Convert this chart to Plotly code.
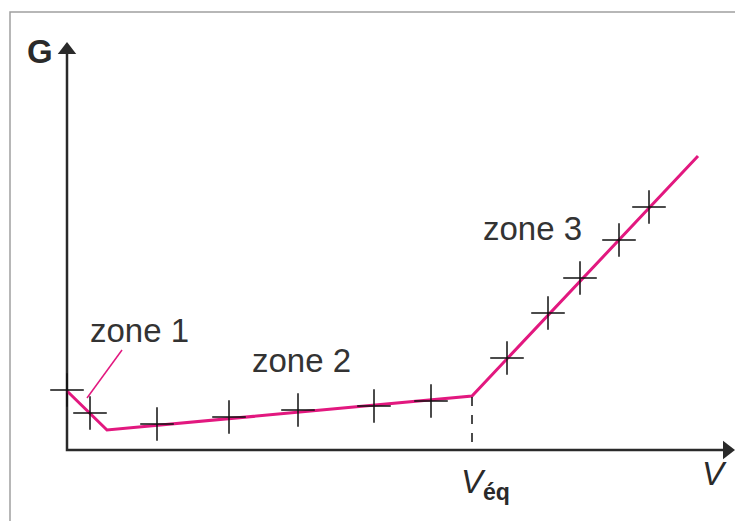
import plotly.graph_objects as go

# Curve (conductance G vs added volume V), arbitrary units
curve_v = [0.0, 4.0, 40.5, 63.1]
curve_g = [5.9, 2.0, 5.4, 29.4]

# Measured points (crosses)
meas_v = [0.0, 2.3, 9.0, 16.2, 23.1, 30.7, 36.4, 44.0, 48.1, 51.3, 55.2, 58.2]
meas_g = [6.0, 3.7, 2.6, 3.3, 4.0, 4.4, 4.9, 9.2, 13.7, 17.2, 21.0, 24.3]

v_eq = 40.5
g_eq = 5.3

# axis extents
v_max = 66.0
g_max = 40.0

zone_labels = ["zone 1", "zone 2", "zone 3"]
zone_v = [7.2, 23.4, 46.5]
zone_g = [12.0, 9.0, 22.2]

PINK = "#e2187f"
INK = "#2a2a2a"
FONT = "Liberation Sans"

fig = go.Figure()

# axes lines
fig.add_trace(go.Scatter(x=[0, 0, v_max], y=[g_max, 0, 0], mode="lines",
                         line=dict(color=INK, width=2.5), hoverinfo="skip"))
# arrowheads
fig.add_trace(go.Scatter(x=[0], y=[g_max], mode="markers",
                         marker=dict(symbol="triangle-up", size=16, color=INK),
                         hoverinfo="skip"))
fig.add_trace(go.Scatter(x=[v_max], y=[0], mode="markers",
                         marker=dict(symbol="triangle-right", size=16, color=INK),
                         hoverinfo="skip"))

fig.add_trace(go.Scatter(x=curve_v, y=curve_g, mode="lines",
                         line=dict(color=PINK, width=3), hoverinfo="skip"))
fig.add_trace(go.Scatter(x=meas_v, y=meas_g, mode="markers",
                         marker=dict(symbol="cross-thin", size=24,
                                     line=dict(color="#111", width=1.5)),
                         hoverinfo="skip"))

# dashed line at equivalence
fig.add_shape(type="line", x0=v_eq, x1=v_eq, y0=g_eq, y1=0,
              line=dict(color="#111", width=1.5, dash="dash"))
# zone 1 leader line
fig.add_shape(type="line", x0=5.5, y0=10.0, x1=2.0, y1=5.2,
              line=dict(color=PINK, width=1.5))
# frame
fig.add_shape(type="rect", x0=-5.7, x1=67.3, y0=43.8, y1=-10,
              line=dict(color="#a0a0a0", width=1.5))

# axis labels
fig.add_annotation(x=-2.7, y=39.9, text="<b>G</b>", showarrow=False,
                   font=dict(family=FONT, size=33, color=INK))
fig.add_annotation(x=64.7, y=-2.3, text="<i>V</i>", showarrow=False,
                   font=dict(family=FONT, size=33, color=INK))
fig.add_annotation(x=v_eq + 1.3, y=-3.4, text="<i>V</i><sub><b>éq</b></sub>",
                   showarrow=False, font=dict(family=FONT, size=33, color=INK))

for lbl, zv, zg in zip(zone_labels, zone_v, zone_g):
    fig.add_annotation(x=zv, y=zg, text=lbl, showarrow=False,
                       font=dict(family=FONT, size=33, color="#333"))

# page body adds an 8px margin, so the figure is 8px smaller
fig.update_layout(
    width=735, height=513, autosize=False,
    margin=dict(l=0, r=0, t=0, b=0),
    paper_bgcolor="white", plot_bgcolor="white",
    showlegend=False,
    xaxis=dict(range=[-5.9, 67.6], visible=False, fixedrange=True),
    yaxis=dict(range=[-7.1, 44.2], visible=False, fixedrange=True),
)

fig.write_html("out.html")
